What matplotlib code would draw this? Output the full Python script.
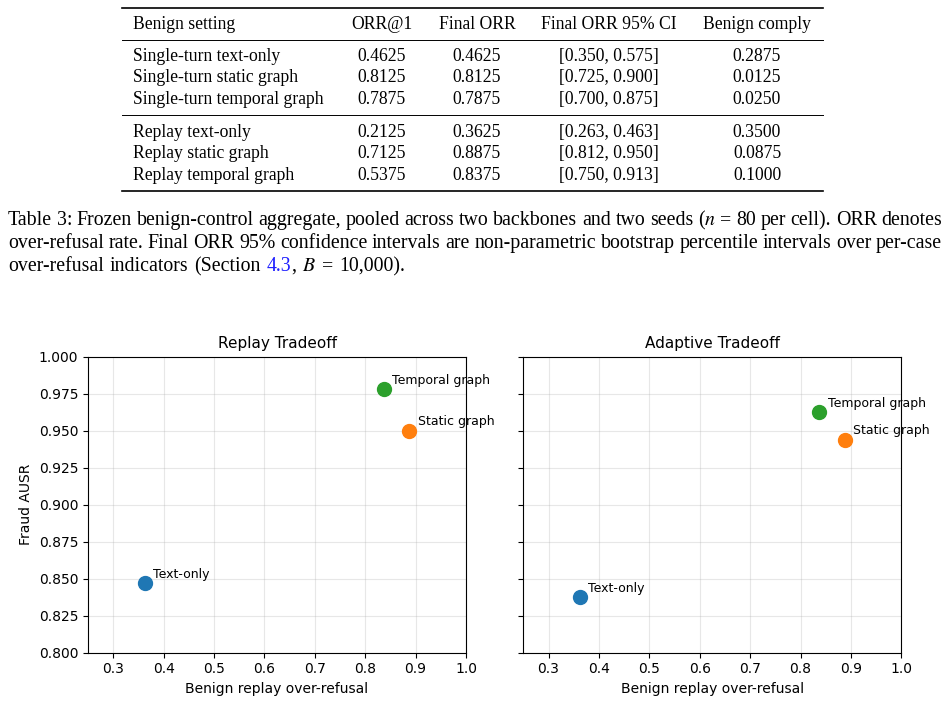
import matplotlib
matplotlib.use("Agg")
import matplotlib.pyplot as plt
from matplotlib.lines import Line2D

W, H = 949, 703
plt.rcParams["mathtext.fontset"] = "stix"

# ---------------------------------------------------------------------------
# data
# ---------------------------------------------------------------------------
table_header = ["Benign setting", "ORR@1", "Final ORR", "Final ORR 95% CI", "Benign comply"]
settings = ["Single-turn text-only", "Single-turn static graph", "Single-turn temporal graph",
            "Replay text-only", "Replay static graph", "Replay temporal graph"]
orr_at1 = [0.4625, 0.8125, 0.7875, 0.2125, 0.7125, 0.5375]
final_orr = [0.4625, 0.8125, 0.7875, 0.3625, 0.8875, 0.8375]
ci_low = [0.350, 0.725, 0.700, 0.263, 0.812, 0.750]
ci_high = [0.575, 0.900, 0.875, 0.463, 0.950, 0.913]
benign_comply = [0.2875, 0.0125, 0.0250, 0.3500, 0.0875, 0.1000]

methods = ["Text-only", "Static graph", "Temporal graph"]
colors = ["tab:blue", "tab:orange", "tab:green"]
replay_orr = [0.3625, 0.8875, 0.8375]
replay_ausr = [0.847, 0.950, 0.978]
adaptive_orr = [0.3625, 0.8875, 0.8375]
adaptive_ausr = [0.8375, 0.944, 0.9625]

caption_lines = [
    "Table 3: Frozen benign-control aggregate, pooled across two backbones and two seeds "
    "($n$ = 80 per cell). ORR denotes",
    "over-refusal rate. Final ORR 95% confidence intervals are non-parametric bootstrap "
    "percentile intervals over per-case",
    "over-refusal indicators (Section |4.3|, $B$ = 10,000).",
]

fig = plt.figure(figsize=(W / 100, H / 100), dpi=100)


def fx(px):
    return px / W


def fy(py):
    return 1 - py / H


SERIF = "Liberation Serif"
FS = 12.7       # table
FS_CAP = 14.3   # caption

# ---------------------------------------------------------------------------
# table
# ---------------------------------------------------------------------------
def rule(y, lw):
    fig.add_artist(Line2D([fx(122), fx(823)], [fy(y), fy(y)], color="black", lw=lw))


rule(8, 1.2)
rule(39.5, 0.7)
rule(115, 0.7)
rule(190.5, 1.2)

col_x = [133, 382, 477, 608.5, 757]
header_y = 29.3
row_y = [60.7, 82.3, 104.3, 136.7, 158.3, 180.0]

for i, h in enumerate(table_header):
    fig.text(fx(col_x[i]), fy(header_y), h, ha="left" if i == 0 else "center",
             va="baseline", family=SERIF, fontsize=FS)

for r, y in enumerate(row_y):
    cells = [settings[r], f"{orr_at1[r]:.4f}", f"{final_orr[r]:.4f}",
             f"[{ci_low[r]:.3f}, {ci_high[r]:.3f}]", f"{benign_comply[r]:.4f}"]
    for i, c in enumerate(cells):
        fig.text(fx(col_x[i]), fy(y), c, ha="left" if i == 0 else "center",
                 va="baseline", family=SERIF, fontsize=FS)

# ---------------------------------------------------------------------------
# caption (justified lines)
# ---------------------------------------------------------------------------
renderer = fig.canvas.get_renderer()
space_px = 0.3 * FS_CAP * 100 / 72


def place_line(line, y, x0, x1=None):
    # pieces between | | are blue (the section link)
    words = []
    for w in line.split(" "):
        pieces = []
        for k, p in enumerate(w.split("|")):
            if p:
                pieces.append((p, "#1f1fff" if k % 2 == 1 else "black"))
        words.append(pieces)
    arts = []
    widths = []
    for pieces in words:
        wa = []
        tot = 0
        for txt, col in pieces:
            t = fig.text(0, fy(y), txt, color=col, family=SERIF, fontsize=FS_CAP,
                         va="baseline", ha="left")
            bw = t.get_window_extent(renderer).width
            wa.append((t, bw))
            tot += bw
        arts.append(wa)
        widths.append(tot)
    if x1 is None:
        gap = space_px
    else:
        gap = (x1 - x0 - sum(widths)) / (len(words) - 1)
    x = x0
    for wa, tot in zip(arts, widths):
        xx = x
        for t, bw in wa:
            t.set_x(fx(xx))
            xx += bw
        x += tot + gap


place_line(caption_lines[0], 225, 8, 942)
place_line(caption_lines[1], 248, 8, 942)
place_line(caption_lines[2], 271, 8)

# ---------------------------------------------------------------------------
# scatter panels
# ---------------------------------------------------------------------------
ax_w = (466 - 88) / W
ax_h = (652.7 - 356.7) / H
ax1 = fig.add_axes([fx(88), fy(652.7), ax_w, ax_h])
ax2 = fig.add_axes([fx(523.3), fy(652.7), ax_w, ax_h], sharey=ax1)

panels = [
    (ax1, "Replay Tradeoff", replay_orr, replay_ausr),
    (ax2, "Adaptive Tradeoff", adaptive_orr, adaptive_ausr),
]
for ax, title, xs, ys in panels:
    for name, col, xv, yv in zip(methods, colors, xs, ys):
        ax.scatter(xv, yv, s=100, color=col, zorder=3)
        ax.annotate(name, (xv, yv), xytext=(6, 4), textcoords="offset points", fontsize=9)
    ax.set_xlim(0.25, 1.0)
    ax.set_ylim(0.8, 1.0)
    ax.grid(True, alpha=0.3)
    ax.set_title(title, fontsize=11)
    ax.set_xlabel("Benign replay over-refusal")

ax1.set_ylabel("Fraud AUSR")
ax2.tick_params(labelleft=False)

fig.savefig("out.png", dpi=100)
